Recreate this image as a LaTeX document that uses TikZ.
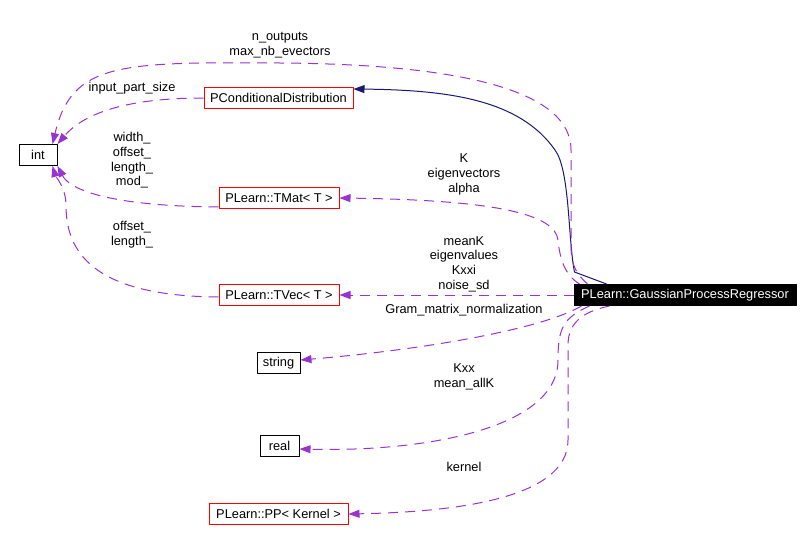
\documentclass[tikz,border=0pt]{standalone}
\usepackage{fontspec}
\setmainfont{Liberation Sans}
\usepackage{xcolor}
\usepackage{tikz}
\usetikzlibrary{arrows.meta, positioning}

\definecolor{edgepurple}{RGB}{154,50,205}
\definecolor{edgenavy}{RGB}{25,25,112}

\begin{document}
\begin{tikzpicture}[x=1pt, y=-1pt, line cap=butt, line join=round,
    font=\fontsize{12.8}{14.7}\selectfont,
    cls/.style={draw=black, line width=1pt, rectangle, minimum height=21pt, inner xsep=5pt, inner ysep=0pt},
    tmpl/.style={cls, draw=red},
    focus/.style={cls, fill=black, text=white},
    lbl/.style={align=center, inner sep=0pt},
    member/.style={draw=edgepurple, line width=1pt, dash pattern=on 10pt off 7pt, -{Triangle[length=11pt, width=8pt]}},
    inherit/.style={draw=edgenavy, line width=1pt, -{Triangle[length=11pt, width=8pt]}}
]

    \useasboundingbox (0,0) rectangle (812,544);

    % Classes
    \node[cls, minimum width=38pt]   (int)    at (38,155)    {int};
    \node[tmpl, minimum width=149pt] (pcd)    at (278.5,98)  {PConditionalDistribution};
    \node[tmpl, minimum width=120pt] (tmat)   at (279,198)   {PLearn::TMat< T >};
    \node[tmpl, minimum width=120pt] (tvec)   at (279,295)   {PLearn::TVec< T >};
    \node[cls, minimum width=43pt]   (string) at (278.5,363) {string};
    \node[cls, minimum width=39pt]   (real)   at (279.5,446) {real};
    \node[tmpl, minimum width=139pt] (pp)     at (278.5,514) {PLearn::PP< Kernel >};
    \node[focus, minimum width=222pt] (gpr)   at (685,295)   {PLearn::GaussianProcessRegressor};

    % Member labels
    \node[lbl] (lblnout)   at (280,45)   {n\_outputs\\max\_nb\_evectors};
    \node[lbl] (lblinput)  at (132,88)   {input\_part\_size};
    \node[lbl] (lblmat)    at (132,160.5) {width\_\\offset\_\\length\_\\mod\_};
    \node[lbl] (lblkmat)   at (464,174.5) {K\\eigenvectors\\alpha};
    \node[lbl] (lblvec)    at (132,235)  {offset\_\\length\_};
    \node[lbl] (lblkvec)   at (464,264)  {meanK\\eigenvalues\\Kxxi\\noise\_sd};
    \node[lbl] (lblgram)   at (464,310)  {Gram\_matrix\_normalization};
    \node[lbl] (lblreal)   at (464,377)  {Kxx\\mean\_allK};
    \node[lbl] (lblkernel) at (464,467)  {kernel};

    % Inheritance
    \draw[inherit] ([xshift=33pt]gpr.north west) -- ++(-32,-12)
        .. controls (568,240) and (570,170) .. (555,150)
        .. controls (520,100) and (450,90) .. ([yshift=9pt]pcd.east);

    % Members of the regressor
    \draw[member] ([xshift=14pt]gpr.north west)
        .. controls (572,270) and (571,260) .. (571,240)
        -- (571,150) .. controls (571,80) and (420,64) .. (280,63)
        .. controls (120,62) and (72,62) .. ([xshift=-5pt]int.north east);
    \draw[member] ([xshift=6pt]gpr.north west)
        .. controls (565,275) and (560,260) .. (558,240)
        .. controls (555,215) and (500,200) .. (tmat.east);
    \draw[member] (gpr.west) -- (tvec.east);
    \draw[member] ([xshift=8pt]gpr.south west)
        .. controls (540,330) and (420,350) .. ([yshift=3pt]string.east);
    \draw[member] ([xshift=16pt]gpr.south west)
        .. controls (562,318) and (558,330) .. (558,360)
        .. controls (558,430) and (420,452) .. ([yshift=-3pt]real.east);
    \draw[member] ([xshift=36pt]gpr.south west)
        .. controls (580,312) and (568,325) .. (568,345)
        -- (568,440) .. controls (568,500) and (450,512) .. (pp.east);

    % Members of the templates
    \draw[member] (pcd.west)
        .. controls (130,98) and (85,112) .. (int.north east);
    \draw[member] ([yshift=-9pt]tmat.west)
        .. controls (110,206) and (70,190) .. (int.south east);
    \draw[member] ([yshift=-2pt]tvec.west)
        .. controls (90,296) and (66,250) .. (66,205)
        .. controls (66,188) and (55,175) .. ([xshift=-5pt]int.south east);

\end{tikzpicture}
\end{document}
